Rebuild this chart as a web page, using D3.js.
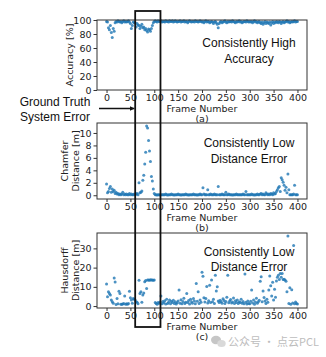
<!DOCTYPE html>
<html>
<head>
<meta charset="utf-8">
<script src="https://cdn.jsdelivr.net/npm/d3@7"></script>
<style>
  body { margin: 0; background: #fff; }
  svg { display: block; }
  .tick text { font-family: "DejaVu Sans", sans-serif; font-size: 9.5px; fill: #222; }
  .tick line { stroke: #333; }
</style>
</head>
<body>
<div id="chart"></div>
<script>
// frame numbers (every second frame)
var frames = d3.range(0, 401, 2);

// (a) accuracy [%]
var accuracy = [
  98, 97, 89, 86, 92, 82, 75, 88, 84, 96,
  98, 97, 99, 98, 97, 98, 96, 98, 99, 97,
  98, 97, 98, 99, 97, 95, 88, 92, 97, 96,
  96, 90, 95, 93, 92, 88, 91, 94, 89, 90,
  86, 88, 85, 83, 87, 86, 84, 88, 92, 96,
  98, 99, 98, 97, 99, 98, 98, 99, 97, 98,
  98, 97, 99, 98, 98, 97, 99, 98, 98, 99,
  97, 98, 99, 98, 97, 98, 98, 99, 97, 98,
  98, 99, 97, 98, 98, 96, 98, 99, 98, 97,
  98, 98, 97, 99, 98, 98, 97, 98, 99, 98,
  97, 98, 96, 98, 99, 97, 98, 98, 96, 97,
  98, 97, 95, 97, 98, 96, 94, 89, 95, 97,
  98, 96, 97, 98, 99, 97, 96, 98, 97, 98,
  98, 97, 99, 98, 97, 96, 98, 97, 98, 99,
  97, 98, 96, 97, 98, 98, 97, 99, 98, 97,
  98, 97, 98, 96, 98, 99, 97, 98, 96, 97,
  98, 96, 95, 97, 94, 96, 98, 95, 97, 96,
  95, 97, 93, 96, 98, 95, 97, 96, 98, 97,
  96, 98, 97, 95, 97, 98, 96, 97, 98, 99,
  97, 98, 96, 97, 98, 97, 98, 99, 97, 98,
  98
];

// (b) chamfer distance [m]
var chamfer = [
  1.8, 0.4, 0.6, 1.1, 1.4, 0.5, 1.0, 0.6, 0.8, 0.3,
  0.5, 0.2, 0.3, 0.1, 0.2, 0.1, 0.2, 0.5, 0.1, 0.2,
  0.1, 0.2, 0.1, 0.1, 0.3, 0.1, 0.2, 0.1, 0.1, 0.2,
  0.1, 0.2, 0.3, 0.1, 2.0, 0.4, 0.5, 0.7, 2.4, 3.2,
  5.0, 6.9, 11.1, 10.8, 8.8, 7.1, 5.4, 3.0, 2.3, 1.0,
  0.3, 0.1, 0.1, 0.05, 0.1, 0.1, 0.05, 0.1, 0.1, 0.1,
  0.1, 0.1, 0.2, 0.1, 0.05, 0.1, 0.1, 0.1, 0.2, 0.1,
  0.1, 0.05, 0.1, 0.1, 0.1, 0.2, 0.1, 0.1, 0.05, 0.1,
  0.1, 0.1, 0.1, 0.2, 0.1, 0.1, 0.05, 0.1, 0.1, 0.1,
  0.1, 0.2, 0.1, 0.1, 0.1, 0.05, 0.1, 0.1, 0.2, 0.1,
  0.1, 1.2, 0.2, 0.1, 0.1, 0.1, 0.9, 0.1, 0.1, 0.2,
  0.1, 0.1, 0.1, 0.2, 0.1, 0.1, 0.1, 1.4, 0.1, 0.1,
  0.1, 0.2, 0.1, 0.1, 0.1, 0.5, 0.1, 0.1, 0.2, 0.1,
  0.1, 0.1, 0.05, 0.1, 0.1, 0.1, 0.2, 0.1, 0.1, 0.1,
  0.1, 0.1, 0.1, 0.2, 0.1, 0.1, 0.6, 0.1, 0.1, 0.1,
  0.1, 0.1, 0.2, 0.1, 0.1, 0.05, 0.1, 0.1, 0.2, 0.1,
  0.1, 0.2, 0.3, 0.1, 0.2, 0.1, 0.1, 0.4, 0.2, 0.1,
  0.2, 0.1, 0.3, 0.2, 0.1, 0.4, 0.2, 0.3, 0.6, 0.9,
  1.2, 1.4, 0.6, 2.8, 2.5, 2.1, 1.6, 0.8, 1.3, 0.4,
  3.4, 0.9, 0.1, 0.1, 0.1, 0.1, 0.2, 1.6, 0.1, 0.1,
  0.1
];

// (c) hausdorff distance [m]
var hausdorff = [
  11.5, 4.9, 7.4, 6.5, 5.7, 3.1, 2.3, 1.5, 14.6, 12.5,
  0.8, 4.0, 1.2, 7.7, 6.5, 1.0, 0.9, 1.1, 1.3, 5.2,
  1.0, 1.2, 0.9, 1.4, 7.7, 4.3, 3.1, 1.5, 4.0, 3.5,
  3.1, 2.2, 2.0, 1.2, 13.4, 6.5, 7.4, 2.0, 5.7, 6.8,
  12.6, 13.3, 9.1, 13.5, 13.6, 13.4, 13.7, 13.5, 13.6, 13.4,
  13.5, 1.8, 1.3, 1.0, 1.8, 1.5, 2.1, 5.2, 1.2, 2.4,
  1.6, 2.8, 1.1, 3.5, 1.4, 2.0, 3.1, 1.2, 2.5, 1.8,
  3.0, 1.4, 2.2, 1.1, 1.7, 2.6, 8.3, 1.5, 3.3, 1.2,
  2.4, 4.1, 1.3, 2.0, 6.5, 1.8, 2.9, 1.1, 3.6, 2.2,
  1.5, 3.9, 2.7, 1.2, 11.7, 2.5, 7.5, 1.4, 3.2, 2.0,
  17.6, 15.5, 4.3, 2.1, 3.9, 10.2, 1.6, 2.8, 10.8, 1.9,
  13.6, 2.3, 3.5, 1.4, 16.0, 7.9, 10.0, 2.6, 1.8, 3.0,
  2.2, 1.5, 3.8, 2.9, 1.3, 2.4, 4.6, 16.0, 1.7, 2.7,
  3.4, 1.6, 2.1, 4.2, 1.4, 2.8, 1.9, 3.1, 1.3, 2.2,
  1.8, 3.6, 1.5, 2.4, 1.2, 16.7, 2.0, 1.1, 2.6, 1.4,
  1.2, 2.5, 8.3, 1.6, 3.2, 1.0, 2.1, 4.1, 1.5, 2.3,
  3.0, 12.9, 15.2, 2.2, 7.9, 4.4, 2.7, 1.3, 3.6, 2.0,
  8.3, 15.7, 10.6, 5.3, 12.4, 3.1, 8.8, 4.6, 13.0, 15.0,
  16.0, 13.8, 16.9, 15.0, 17.0, 13.8, 14.0, 13.6, 12.9, 7.5,
  36.4, 1.3, 9.5, 1.0, 8.5, 1.6, 31.5, 1.2, 2.1, 1.4,
  1.1
];

var xTicks = [0, 50, 100, 150, 200, 250, 300, 350, 400];
var errorBox = [60, 113]; // highlighted frame range

var svgWidth = 326;
var svgHeight = 357;

var svg = d3.select("#chart")
    .append("svg")
    .attr("width", svgWidth)
    .attr("height", svgHeight);

var x = d3.scaleLinear().domain([-20, 420]).range([97, 307]);

var panels = [
    { values: accuracy, domain: [0, 100], top: 20, bottom: 90, ticks: [0, 20, 40, 60, 80, 100],
      ylabel: ["Accuracy [%]"], letter: "(a)", note: ["Consistently High", "Accuracy"], noteY: 43 },
    { values: chamfer, domain: [-0.6, 11.6], top: 123, bottom: 199, ticks: [0, 2, 4, 6, 8, 10],
      ylabel: ["Chamfer", "Distance [m]"], letter: "(b)", note: ["Consistently Low", "Distance Error"], noteY: 143 },
    { values: hausdorff, domain: [-1, 38], top: 233, bottom: 308, ticks: [0, 10, 20, 30],
      ylabel: ["Hausdorff", "Distance [m]"], letter: "(c)", note: ["Consistently Low", "Distance Error"], noteY: 251.5 }
];

panels.forEach(function(p) {
    var y = d3.scaleLinear().domain(p.domain).range([p.bottom, p.top]);
    var g = svg.append("g");

    // points
    g.selectAll("circle")
        .data(frames)
        .enter()
        .append("circle")
        .attr("cx", function(d) { return x(d); })
        .attr("cy", function(d, i) { return y(p.values[i]); })
        .attr("r", 1.5)
        .attr("fill", "#1f77b4")
        .attr("fill-opacity", 0.8);

    // frame
    g.append("rect")
        .attr("x", x.range()[0])
        .attr("y", p.top)
        .attr("width", x.range()[1] - x.range()[0])
        .attr("height", p.bottom - p.top)
        .attr("fill", "none")
        .attr("stroke", "#333")
        .attr("stroke-width", 1);

    var xAxis = g.append("g")
        .attr("transform", `translate(0, ${p.bottom})`)
        .call(d3.axisBottom(x).tickValues(xTicks).tickSize(3).tickPadding(1.5));
    xAxis.select(".domain").remove();

    var yAxis = g.append("g")
        .attr("transform", `translate(${x.range()[0]}, 0)`)
        .call(d3.axisLeft(y).tickValues(p.ticks).tickSize(3.5).tickPadding(2));
    yAxis.select(".domain").remove();

    // x label + panel letter
    var cx = (x.range()[0] + x.range()[1]) / 2;
    g.append("text")
        .attr("x", cx)
        .attr("y", p.bottom + 19)
        .attr("dy", "0.35em")
        .attr("text-anchor", "middle")
        .style("font-family", "DejaVu Sans, sans-serif")
        .style("font-size", "9.5px")
        .attr("fill", "#222")
        .text("Frame Number");
    g.append("text")
        .attr("x", cx)
        .attr("y", p.bottom + 29)
        .attr("dy", "0.35em")
        .attr("text-anchor", "middle")
        .style("font-family", "DejaVu Sans, sans-serif")
        .style("font-size", "9.5px")
        .attr("fill", "#222")
        .text(p.letter);

    // y label (rotated)
    var midY = (p.top + p.bottom) / 2;
    var lineX = p.ylabel.length === 1 ? [70] : [65, 75.5];
    p.ylabel.forEach(function(t, i) {
        g.append("text")
            .attr("transform", `translate(${lineX[i]}, ${midY}) rotate(-90)`)
            .attr("dy", "0.35em")
            .attr("text-anchor", "middle")
            .style("font-family", "DejaVu Sans, sans-serif")
            .style("font-size", "9.5px")
            .attr("fill", "#222")
            .text(t);
    });

    // note
    p.note.forEach(function(t, i) {
        g.append("text")
            .attr("x", 249)
            .attr("y", p.noteY + i * 15.5)
            .attr("dy", "0.35em")
            .attr("text-anchor", "middle")
            .style("font-family", "Liberation Sans, Arial, sans-serif")
            .style("font-size", "12px")
            .attr("fill", "#111")
            .text(t);
    });
});

// ground truth error box
svg.append("rect")
    .attr("x", x(errorBox[0]))
    .attr("y", 11)
    .attr("width", x(errorBox[1]) - x(errorBox[0]))
    .attr("height", 316)
    .attr("fill", "none")
    .attr("stroke", "#111")
    .attr("stroke-width", 1.8);

svg.append("text")
    .attr("x", 55)
    .attr("y", 102)
    .attr("dy", "0.35em")
    .attr("text-anchor", "middle")
    .style("font-family", "Liberation Sans, Arial, sans-serif")
    .style("font-size", "12px")
    .attr("fill", "#111")
    .text("Ground Truth");
svg.append("text")
    .attr("x", 55)
    .attr("y", 117)
    .attr("dy", "0.35em")
    .attr("text-anchor", "middle")
    .style("font-family", "Liberation Sans, Arial, sans-serif")
    .style("font-size", "12px")
    .attr("fill", "#111")
    .text("System Error");

svg.append("defs").append("marker")
    .attr("id", "arrow")
    .attr("viewBox", "0 0 10 10")
    .attr("refX", 9)
    .attr("refY", 5)
    .attr("markerWidth", 4)
    .attr("markerHeight", 4)
    .attr("orient", "auto")
    .append("path")
    .attr("d", "M0,0 L10,5 L0,10 z")
    .attr("fill", "#111");

svg.append("line")
    .attr("x1", 99)
    .attr("x2", x(errorBox[0]) - 1)
    .attr("y1", 108.5)
    .attr("y2", 108.5)
    .attr("stroke", "#111")
    .attr("stroke-width", 1.3)
    .attr("marker-end", "url(#arrow)");

// watermark
var wm = svg.append("g").attr("opacity", 0.55);
wm.append("ellipse").attr("cx", 216).attr("cy", 340).attr("rx", 5).attr("ry", 4.2).attr("fill", "#999");
wm.append("ellipse").attr("cx", 221.5).attr("cy", 343.5).attr("rx", 4.2).attr("ry", 3.5).attr("fill", "#bbb");
wm.append("text")
    .attr("x", 228)
    .attr("y", 342)
    .attr("dy", "0.35em")
    .style("font-family", "Noto Sans CJK SC, sans-serif")
    .style("font-size", "11px")
    .attr("fill", "#888")
    .text("公众号 · 点云PCL");
</script>
</body>
</html>
